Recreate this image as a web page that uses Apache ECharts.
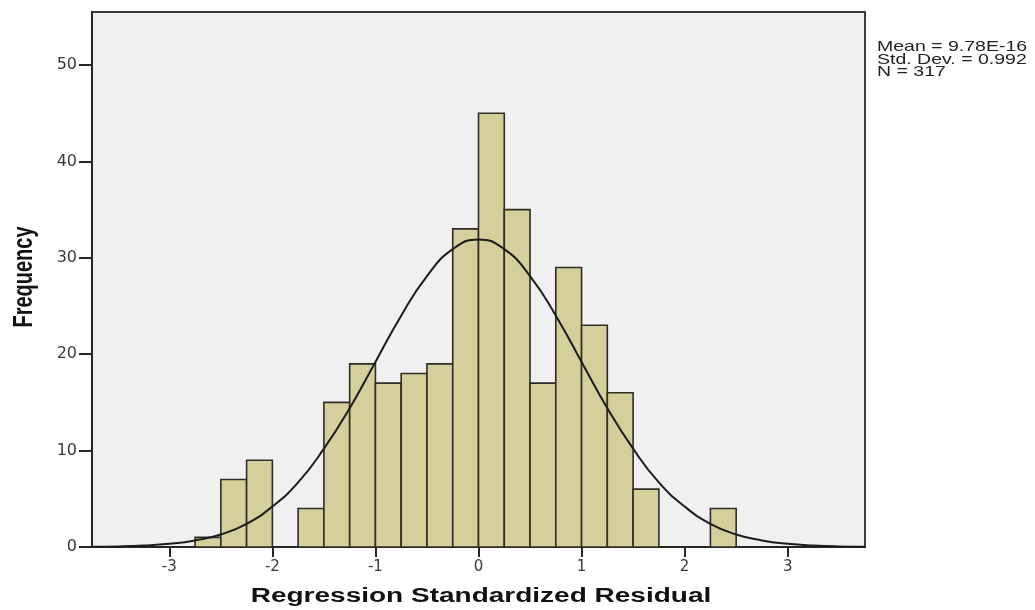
<!DOCTYPE html>
<html>
<head>
<meta charset="utf-8">
<script src="https://cdn.jsdelivr.net/npm/echarts@6/dist/echarts.min.js"></script>
<style>
html,body{margin:0;padding:0;background:#fff;}
#chart{width:1035px;height:610px;}
</style>
</head>
<body>
<div id="chart"></div>
<script>
// ---- data ----
const binLeft   = [-2.75, -2.5, -2.25, -1.75, -1.5, -1.25, -1.0, -0.75, -0.5, -0.25, 0.0, 0.25, 0.5, 0.75, 1.0, 1.25, 1.5, 2.25];
const binRight  = [-2.5, -2.25, -2.0, -1.5, -1.25, -1.0, -0.75, -0.5, -0.25, 0.0, 0.25, 0.5, 0.75, 1.0, 1.25, 1.5, 1.75, 2.5];
const binCounts = [1, 7, 9, 4, 15, 19, 17, 18, 19, 33, 45, 35, 17, 29, 23, 16, 6, 4];

const curveX = [-3.75,-3.5,-3.25,-3.0,-2.75,-2.5,-2.25,-2.0,-1.75,-1.5,-1.25,-1.0,-0.75,-0.5,-0.25,0,
                0.25,0.5,0.75,1.0,1.25,1.5,1.75,2.0,2.25,2.5,2.75,3.0,3.25,3.5,3.75];
const curveY = [0.03,0.06,0.15,0.33,0.68,1.3,2.4,4.2,6.7,10.2,14.4,19.2,24.0,28.1,30.9,31.9,
                30.9,28.1,24.0,19.2,14.4,10.2,6.7,4.2,2.4,1.3,0.68,0.33,0.15,0.06,0.03];

const xTicks = [-3, -2, -1, 0, 1, 2, 3];
const yTicks = [0, 10, 20, 30, 40, 50];

const statsLines = ['Mean = 9.78E-16', 'Std. Dev. = 0.992', 'N = 317'];
const xName = 'Regression Standardized Residual';
const yName = 'Frequency';

// ---- chart ----
const chart = echarts.init(document.getElementById('chart'), null, {renderer: 'canvas'});

const barData = binLeft.map((l, i) => [l, binRight[i], binCounts[i]]);
const lineData = curveX.map((x, i) => [x, curveY[i]]);

const labelFont = 'DejaVu Sans';

const option = {
  animation: false,
  backgroundColor: '#ffffff',
  grid: {
    left: 92, top: 12, right: 170, bottom: 63,
    show: true,
    backgroundColor: '#f0f0f0',
    borderColor: '#3c3c3c',
    borderWidth: 2
  },
  xAxis: {
    type: 'value',
    min: -3.75, max: 3.75,
    splitLine: {show: false},
    axisLine: {show: true, onZero: false, lineStyle: {color: '#262626', width: 2}},
    axisTick: {show: true, length: 10, customValues: xTicks, lineStyle: {color: '#262626', width: 2}},
    axisLabel: {customValues: xTicks, margin: 13, color: '#3a3a3a', fontFamily: labelFont, fontSize: 15}
  },
  yAxis: {
    type: 'value',
    min: 0, max: 55.5,
    interval: 10,
    splitLine: {show: false},
    axisLine: {show: true, onZero: false, lineStyle: {color: '#262626', width: 2}},
    axisTick: {show: true, length: 13, customValues: yTicks, lineStyle: {color: '#262626', width: 2}},
    axisLabel: {customValues: yTicks, margin: 15, color: '#3a3a3a', fontFamily: labelFont, fontSize: 16}
  },
  series: [
    {
      type: 'custom',
      data: barData,
      encode: {x: [0, 1], y: 2},
      z: 2,
      renderItem: function (params, api) {
        const p0 = api.coord([api.value(0), api.value(2)]);
        const p1 = api.coord([api.value(1), 0]);
        return {
          type: 'rect',
          shape: {x: p0[0], y: p0[1], width: p1[0] - p0[0], height: p1[1] - p0[1]},
          style: {fill: '#d4cf9b', stroke: '#2e2e24', lineWidth: 1.6}
        };
      }
    },
    {
      type: 'line',
      data: lineData,
      smooth: true,
      showSymbol: false,
      z: 5,
      lineStyle: {color: '#1c1c1c', width: 2}
    }
  ],
  graphic: [
    {
      type: 'text',
      x: 877, y: 41,
      scaleX: 1.3,
      style: {
        text: statsLines.join('\n'),
        font: '15px "Liberation Sans", Arial, sans-serif',
        lineHeight: 12.5,
        fill: '#222222',
        textAlign: 'left',
        textVerticalAlign: 'top'
      }
    },
    {
      type: 'text',
      x: 481, y: 596,
      scaleX: 1.4,
      style: {
        text: xName,
        font: 'bold 20px "Liberation Sans", Arial, sans-serif',
        fill: '#111111',
        textAlign: 'center',
        textVerticalAlign: 'middle'
      }
    },
    {
      type: 'text',
      x: 25, y: 277,
      rotation: Math.PI / 2,
      scaleY: 1.35,
      style: {
        text: yName,
        font: 'bold 20px "Liberation Sans", Arial, sans-serif',
        fill: '#111111',
        textAlign: 'center',
        textVerticalAlign: 'middle'
      }
    }
  ]
};

chart.setOption(option);
</script>
</body>
</html>
